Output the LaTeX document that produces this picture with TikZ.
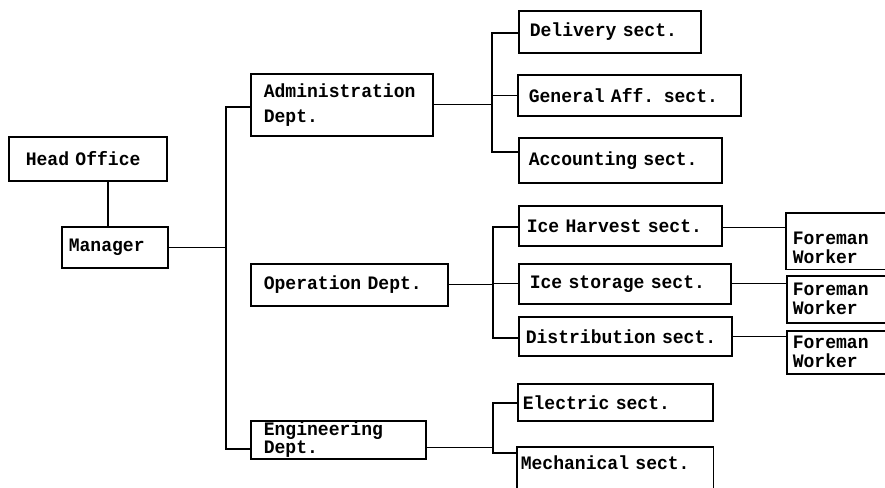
\documentclass[tikz,border=0pt]{standalone}
\usepackage{fontspec}
\newfontfamily\tw{Liberation Mono}[FakeStretch=0.95]
% typewriter face with a full-width, rigid space
\newcommand\twfont{\tw\bfseries\fontsize{19}{22}\selectfont
  \setbox0\hbox{M}\fontdimen2\font=\wd0 \fontdimen3\font=0pt \fontdimen4\font=0pt \relax}
\begin{document}
\begin{tikzpicture}[x=1pt,y=-1pt,
  every node/.style={font=\twfont},
  box/.style={draw, line width=1.6pt, anchor=north west, align=left, inner ysep=0pt},
  edge/.style={line width=1.6pt},
  link/.style={line width=1.3pt},
  trunk/.style={line width=2.4pt, line cap=rect}]

% page and clipping frame
\fill[white] (0,0) rectangle (885,487);
\useasboundingbox (0,0) rectangle (885,487);
\clip (0,0) rectangle (885,487);

% top of the organisation
\node[box, text width=124pt, inner xsep=17pt, minimum height=44pt] (head) at (8,136) {Head Office};
\node[box, text width=92pt, inner xsep=7pt, minimum height=41pt] (manager) at (61,226) {Manager};

% departments
\node[box, text width=156pt, inner xsep=13pt, minimum height=62pt] (admin) at (250,73) {Administration\\[3pt]Dept.};
\node[box, text width=171pt, inner xsep=13pt, minimum height=42pt] (oper) at (250,263) {Operation Dept.};
\node[box, text width=149pt, inner xsep=13pt, minimum height=38pt] (eng) at (250,420) {Engineering\\[-4pt]Dept.};

% sections
\node[box, text width=160pt, inner xsep=11pt, minimum height=42pt] (deliv) at (518,10) {Delivery sect.};
\node[box, text width=201pt, inner xsep=11pt, minimum height=41pt] (general) at (517,74) {General Aff. sect.};
\node[box, text width=183pt, inner xsep=10pt, minimum height=45pt] (acct) at (518,137) {Accounting sect.};
\node[box, text width=187pt, inner xsep=8pt, minimum height=40pt] (harvest) at (518,205) {Ice Harvest sect.};
\node[box, text width=190pt, inner xsep=11pt, minimum height=40pt] (storage) at (518,263) {Ice storage sect.};
\node[box, text width=199pt, inner xsep=7pt, minimum height=39pt] (distrib) at (518,316) {Distribution sect.};
\node[box, text width=185pt, inner xsep=5pt, minimum height=37pt] (elec) at (517,383) {Electric sect.};
\node[box, draw=none, text width=189pt, inner xsep=3pt, minimum height=30pt] (mech) at (517,447) {Mechanical sect.};
\draw[edge] ([yshift=-20pt]mech.south west) -- (mech.north west) -- (mech.north east) -- ([yshift=-20pt]mech.south east);

% foremen and workers (boxes run past the right margin)
\node[box, draw=none, text width=98pt, inner xsep=6pt, minimum height=41pt] (fm1) at (786,227) {Foreman\\[-3pt]Worker};
\draw[edge] ([yshift=14pt]fm1.north west) rectangle ([xshift=20pt]fm1.south east);
\node[box, text width=98pt, inner xsep=6pt, minimum height=47pt] (fm2) at (786,275) {Foreman\\[-3pt]Worker};
\node[box, text width=98pt, inner xsep=6pt, minimum height=43pt] (fm3) at (786,330) {Foreman\\[-3pt]Worker};

% head office to manager, manager to the main trunk
\draw[line width=2pt] ([xshift=20pt]head.south) -- ([xshift=-7pt]manager.north);
\coordinate (bustop) at (226,107);
\coordinate (busbot) at (226,449);
\draw[trunk] (bustop) -- (busbot);
\draw[link] (manager.east) -- (manager.east -| bustop);
\draw[link] (bustop) -- (bustop -| admin.west);
\draw[link] (busbot) -- (busbot -| eng.west);

% administration branches
\coordinate (atop) at (492,33);
\coordinate (abot) at (492,152);
\draw[trunk] (atop) -- (abot);
\draw[link] (admin.east) -- (admin.east -| atop);
\draw[link] (atop) -- (atop -| deliv.west);
\draw[link] (atop |- general.west) -- (general.west);
\draw[link] (abot) -- (abot -| acct.west);

% operation branches
\coordinate (otop) at (493,227);
\coordinate (obot) at (493,338);
\draw[trunk] (otop) -- (obot);
\draw[link] (oper.east) -- (oper.east -| otop);
\draw[link] (otop) -- (otop -| harvest.west);
\draw[link] (otop |- storage.west) -- (storage.west);
\draw[link] (obot) -- (obot -| distrib.west);
\draw[link] ([yshift=-2pt]harvest.east) -- ([yshift=-2pt]harvest.east -| fm1.west);
\draw[link] (storage.east) -- (storage.east -| fm2.west);
\draw[link] (distrib.east) -- (distrib.east -| fm3.west);

% engineering branches
\coordinate (etop) at (493,403);
\coordinate (ebot) at (493,453);
\draw[trunk] (etop) -- (ebot);
\draw[link] ([yshift=-8pt]eng.east) -- ([yshift=-8pt]eng.east -| etop);
\draw[link] (etop) -- (etop -| elec.west);
\draw[link] (ebot) -- (ebot -| mech.west);
\end{tikzpicture}
\end{document}
